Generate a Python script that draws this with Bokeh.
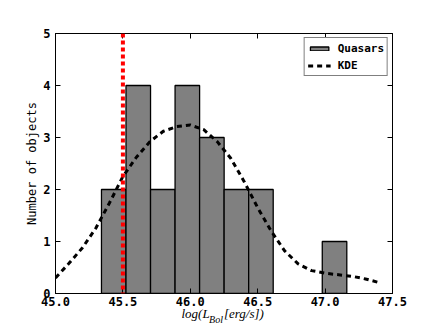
from bokeh.plotting import figure
from bokeh.models import Span, LinearAxis, FixedTicker, Legend, LegendItem, CustomJSTickFormatter
from bokeh.embed import file_html
from bokeh.resources import INLINE

# ---- data ----
bin_edges = [45.341, 45.523, 45.705, 45.887, 46.069, 46.251, 46.433, 46.615, 46.797, 46.979, 47.161]
counts = [2, 4, 2, 4, 3, 2, 2, 0, 0, 1]

kde_x = [45.0, 45.1, 45.2, 45.3, 45.4, 45.5, 45.6, 45.7, 45.8, 45.9, 46.0, 46.1, 46.2,
         46.3, 46.4, 46.5, 46.6, 46.7, 46.8, 46.9, 47.0, 47.1, 47.2, 47.3, 47.4]
kde_y = [0.30, 0.58, 0.88, 1.26, 1.74, 2.25, 2.62, 2.92, 3.12, 3.21, 3.24, 3.15, 2.92,
         2.60, 2.15, 1.65, 1.20, 0.82, 0.57, 0.44, 0.39, 0.36, 0.33, 0.28, 0.21]

threshold = 45.5

x_ticks = [45.0, 45.5, 46.0, 46.5, 47.0, 47.5]
x_tick_labels = ["45.0", "45.5", "46.0", "46.5", "47.0", "47.5"]
y_ticks = [0, 1, 2, 3, 4, 5]
y_tick_labels = ["0", "1", "2", "3", "4", "5"]

# x-axis title pieces: main text and subscript, with their horizontal anchors
xlabel_main = ["log(L", "[erg/s])"]
xlabel_main_at = [46.039, 46.398]
xlabel_sub = ["Bol"]
xlabel_sub_at = [46.191]

# ---- figure ----
p = figure(width=436, height=327, x_range=(45.0, 47.5), y_range=(0, 5),
           output_backend="svg", toolbar_location=None,
           min_border_left=55, min_border_right=44, min_border_top=33, min_border_bottom=33)
p.background_fill_color = "white"
p.border_fill_color = "white"
p.outline_line_color = "black"
p.outline_line_width = 1
p.xgrid.visible = False
p.ygrid.visible = False

left = [l for l, c in zip(bin_edges[:-1], counts) if c > 0]
right = [r for r, c in zip(bin_edges[1:], counts) if c > 0]
tops = [c for c in counts if c > 0]
bars = p.quad(left=left, right=right, top=tops, bottom=0,
              fill_color="#808080", line_color="black", line_width=1.3)

span = Span(location=threshold, dimension="height", line_color="#ff0000",
            line_width=4, line_dash="4 3", line_cap="butt")
p.add_layout(span)

kde = p.line(kde_x, kde_y, line_color="black", line_width=3, line_dash="5 4")

tick_font = "DejaVu Sans Mono"

def style_axis(ax, ticks, labels, show_labels=True):
    ax.ticker = FixedTicker(ticks=ticks)
    ax.major_tick_in = 5
    ax.major_tick_out = 0
    ax.minor_tick_in = 0
    ax.minor_tick_out = 0
    ax.major_tick_line_color = "black"
    ax.axis_line_color = "black"
    if show_labels:
        ax.formatter = CustomJSTickFormatter(args=dict(labels=labels), code="return labels[index]")
        ax.major_label_text_font = tick_font
        ax.major_label_text_font_style = "bold"
        ax.major_label_text_font_size = "12px"
        ax.major_label_text_color = "black"
    else:
        ax.formatter = CustomJSTickFormatter(code="return ''")

xa = p.xaxis[0]
style_axis(xa, x_ticks, x_tick_labels)
xa.major_label_standoff = 3

ya = p.yaxis[0]
style_axis(ya, y_ticks, y_tick_labels)
ya.major_label_standoff = 5
ya.axis_label = "Number of objects"
ya.axis_label_text_font = "DejaVu Sans Mono"
ya.axis_label_text_font_style = "normal"
ya.axis_label_text_font_size = "12px"
ya.axis_label_standoff = 1
ya.axis_label_text_color = "black"

top_ax = LinearAxis()
style_axis(top_ax, x_ticks, x_tick_labels, show_labels=False)
p.add_layout(top_ax, "above")
right_ax = LinearAxis()
style_axis(right_ax, y_ticks, y_tick_labels, show_labels=False)
p.add_layout(right_ax, "right")

# x axis title made of text pieces (main + subscript) carried by label-only axes
def text_axis(ticks, labels, size, standoff):
    ax = LinearAxis(ticker=FixedTicker(ticks=ticks),
                    formatter=CustomJSTickFormatter(args=dict(labels=labels), code="return labels[index]"))
    ax.axis_line_color = None
    ax.major_tick_line_color = None
    ax.minor_tick_line_color = None
    ax.major_tick_in = 0
    ax.major_tick_out = 0
    ax.minor_tick_in = 0
    ax.minor_tick_out = 0
    ax.major_label_text_font = "Liberation Serif"
    ax.major_label_text_font_style = "italic"
    ax.major_label_text_font_size = size
    ax.major_label_text_color = "black"
    ax.major_label_standoff = standoff
    return ax

p.add_layout(text_axis(xlabel_main_at, xlabel_main, "13px", -3), "below")
p.add_layout(text_axis(xlabel_sub_at, xlabel_sub, "10px", -10), "below")

legend = Legend(items=[LegendItem(label="Quasars", renderers=[bars]),
                       LegendItem(label="KDE", renderers=[kde])],
                location="top_right", margin=4, padding=3, spacing=3,
                glyph_width=23, glyph_height=5, label_height=14, label_standoff=7,
                label_text_font="DejaVu Sans Mono", label_text_font_style="bold",
                label_text_font_size="11px", label_text_color="black",
                border_line_color="black", border_line_width=1,
                background_fill_color="white", background_fill_alpha=1)
p.add_layout(legend)

open("out.html", "w").write(file_html(p, INLINE))
